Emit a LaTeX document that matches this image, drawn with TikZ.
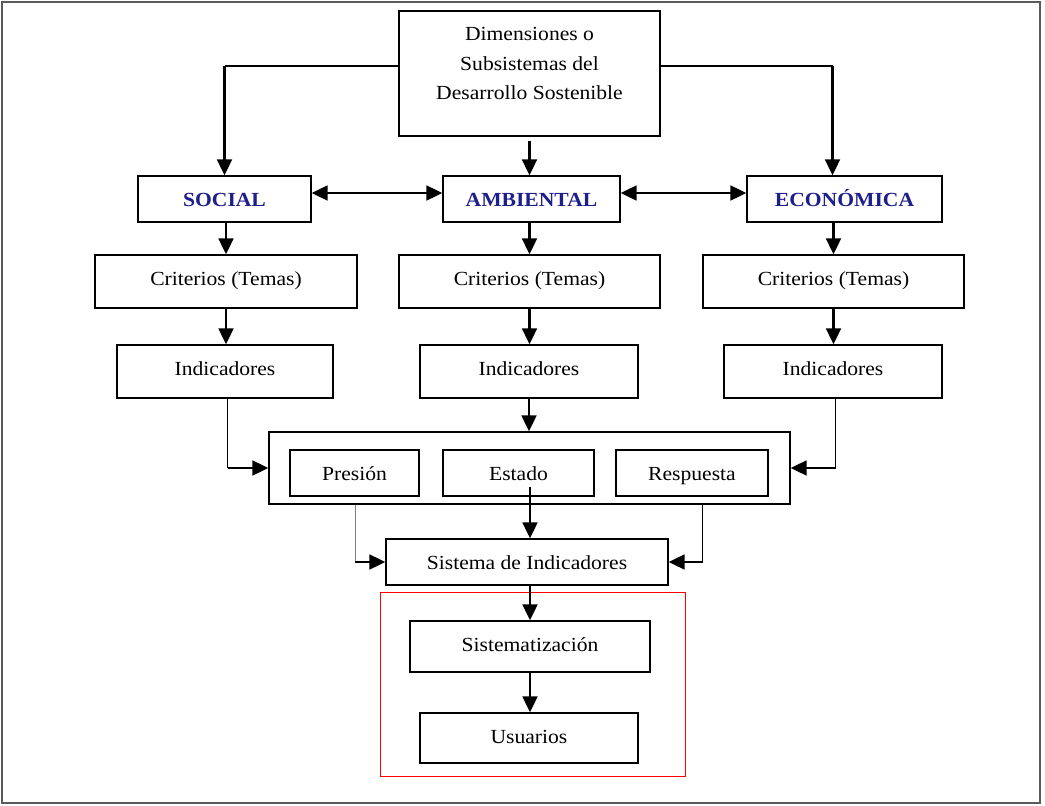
\documentclass[tikz,border=0pt]{standalone}
\usepackage{fontspec}
\setmainfont{Liberation Serif}[FakeStretch=1.08]
\usetikzlibrary{arrows.meta}

\definecolor{dimblue}{RGB}{30,30,140}
\definecolor{framegray}{RGB}{90,90,90}

\begin{document}
\begin{tikzpicture}[x=0.75pt, y=-0.75pt,
    >={Triangle[length=12pt,width=11pt]},
    font=\fontsize{15}{22}\selectfont,
    sz/.style 2 args={minimum width=#1*0.75pt, minimum height=#2*0.75pt,
      text height=10.5pt, text depth={(#2-46)*0.75pt}},
    box/.style={draw, line width=0.9pt, inner sep=0pt},
    dimbox/.style={box, font=\fontsize{15}{22}\selectfont\bfseries\color{dimblue}},
    flow/.style={->, line width=2.1pt},
    link/.style={line width=0.8pt}]
      \useasboundingbox (0,0) rectangle (1045,806);
      \draw[framegray, line width=2pt] (2,2) rectangle (1040,803);

      % top box
      \node[box, sz={261}{125},
        label={[align=center, inner sep=0pt, anchor=north, yshift=-12.75pt]north:Dimensiones o\\Subsistemas del\\Desarrollo Sostenible}]
        (dim) at (529.5,73.5) {};

      % dimensions
      \node[dimbox, sz={173}{46}] (social) at (224.5,199) {SOCIAL};
      \node[dimbox, sz={177}{46}] (amb) at (531.5,199) {AMBIENTAL};
      \node[dimbox, sz={195}{46}] (econ) at (844.5,199) {ECONÓMICA};

      % criteria and indicators
      \node[box, sz={262}{53}] (crit1) at (226,281.5) {Criterios (Temas)};
      \node[box, sz={261}{53}] (crit2) at (529.5,281.5) {Criterios (Temas)};
      \node[box, sz={261}{53}] (crit3) at (833.5,281.5) {Criterios (Temas)};
      \node[box, sz={216}{53}] (ind1) at (225,371.5) {Indicadores};
      \node[box, sz={218}{53}] (ind2) at (529,371.5) {Indicadores};
      \node[box, sz={218}{53}] (ind3) at (833,371.5) {Indicadores};

      % P-E-R
      \node[box, sz={521}{72}] (per) at (529.5,468) {};
      \node[box, sz={129}{46}] (pres) at (354.5,473) {Presión};
      \node[box, sz={151}{46}] (est) at (518.5,473) {Estado};
      \node[box, sz={152}{46}] (resp) at (692,473) {Respuesta};

      \node[box, sz={282}{46}] (sis) at (527,562) {Sistema de Indicadores};
      \node[draw=red, line width=0.6pt, inner sep=0pt, sz={305}{184}] (grupo) at (532.5,684) {};
      \node[box, sz={240}{51}] (sist) at (530,646.5) {Sistematización};
      \node[box, sz={218}{50}] (usu) at (529,738) {Usuarios};

      % from top box
      \coordinate (tl) at ([yshift=5.6pt]dim.west);
      \coordinate (tr) at ([yshift=5.6pt]dim.east);
      \coordinate (ec) at ([xshift=-9pt]econ.north);
      \draw[link] (tl) -- (tl -| social.north);
      \draw[flow] (tl -| social.north) -- (social.north);
      \draw[link] (tr) -- (tr -| ec);
      \draw[flow] (tr -| ec) -- (ec);
      \draw[flow] ([yshift=-3pt]dim.south) -- (dim.south |- amb.north);
      \draw[flow, <->] ([yshift=4.5pt]social.east) -- ([yshift=4.5pt]amb.west);
      \draw[flow, <->] ([yshift=4.5pt]amb.east) -- ([yshift=4.5pt]econ.west);

      % columns
      \draw[flow] (crit1.north |- social.south) -- (crit1.north);
      \draw[flow] (crit2.north |- amb.south) -- (crit2.north);
      \draw[flow] (crit3.north |- econ.south) -- (crit3.north);
      \draw[flow] (crit1.south) -- (crit1.south |- ind1.north);
      \draw[flow] (crit2.south) -- (crit2.south |- ind2.north);
      \draw[flow] (crit3.south) -- (crit3.south |- ind3.north);

      % into P-E-R
      \coordinate (i1) at ([xshift=2pt]ind1.south);
      \coordinate (i3) at ([xshift=2pt]ind3.south);
      \draw[link] (i1) -- (i1 |- per.west);
      \draw[flow] (i1 |- per.west) -- (per.west);
      \draw[link] (i3) -- (i3 |- per.east);
      \draw[flow] (i3 |- per.east) -- (per.east);
      \draw[flow] (ind2.south) -- (ind2.south |- per.north);

      % into the system
      \coordinate (pl) at ([xshift=65.25pt]per.south west);
      \coordinate (pr) at ([xshift=-66pt]per.south east);
      \draw[link, gray] (pl) -- (pl |- sis.west);
      \draw[flow] (pl |- sis.west) -- (sis.west);
      \draw[link] (pr) -- (pr |- sis.east);
      \draw[flow] (pr |- sis.east) -- (sis.east);
      \draw[flow] ([yshift=7pt]est.south -| sist.north) -- (sist.north |- sis.north);

      \draw[flow] (sist.north |- sis.south) -- (sist.north);
      \draw[flow] (sist.south) -- (sist.south |- usu.north);
\end{tikzpicture}
\end{document}
